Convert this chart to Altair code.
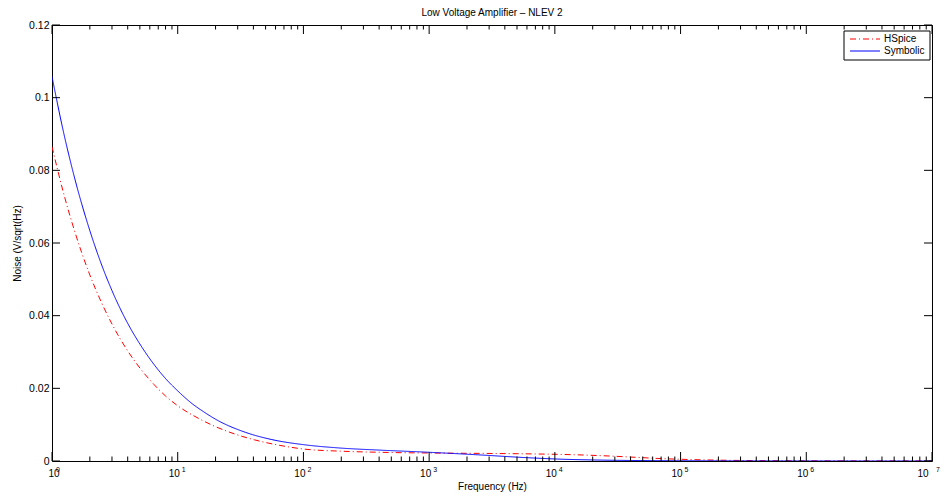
import altair as alt
import pandas as pd

# ---- data ----
hspice_f = [1, 1.25, 1.5, 2, 2.5, 3, 4, 5, 6.5, 8, 10, 14.7, 18.7, 27, 41, 65, 100, 200, 400,
            1000, 2450, 5000, 8300, 15000, 26000, 45000, 66000, 120000, 300000, 1e6, 1e7]
hspice_v = [0.0865, 0.0731, 0.0637, 0.0512, 0.0433, 0.0377, 0.0303, 0.0256, 0.0210, 0.0179, 0.0152,
            0.0117, 0.0099, 0.0077, 0.0058, 0.0043, 0.0033, 0.0027, 0.0024, 0.0022, 0.0021, 0.0020,
            0.0019, 0.0017, 0.0014, 0.0010, 0.0007, 0.0004, 0.00015, 0.00005, 0.00002]

symb_f = [1, 1.25, 1.5, 2, 2.5, 3, 4, 5, 6.5, 8, 10, 13, 16, 20, 34.5, 56, 100, 190, 400,
          1000, 2450, 6100, 11200, 19400, 50000, 1e5, 1e6, 1e7]
symb_v = [0.1058, 0.0897, 0.0784, 0.0634, 0.0537, 0.0469, 0.0379, 0.0322, 0.0265, 0.0227, 0.0193,
          0.0158, 0.0136, 0.0115, 0.0079, 0.0059, 0.0045, 0.0036, 0.0030, 0.0024, 0.0017, 0.0009,
          0.0005, 0.0003, 0.00012, 0.00006, 0.00001, 0.0]

series_names = ["HSpice", "Symbolic"]
series_colors = ["#ff0000", "#0000ff"]
series_dash = [[6, 3, 1, 3], [1, 0]]
title_text = "Low Voltage Amplifier \u2013 NLEV 2"
x_title = "Frequency (Hz)"
y_title = "Noise (V/sqrt(Hz)"

decades = [10 ** d for d in range(0, 8)]
decade_exp = ["0", "1", "2", "3", "4", "5", "6", "7"]
minor = [k * 10 ** d for d in range(0, 7) for k in range(2, 10)]
y_ticks = [0, 0.02, 0.04, 0.06, 0.08, 0.1, 0.12]

W, H = 880, 436
FONT = "Liberation Sans"

df = pd.concat([
    pd.DataFrame({"f": hspice_f, "v": hspice_v, "series": "HSpice"}),
    pd.DataFrame({"f": symb_f, "v": symb_v, "series": "Symbolic"}),
])

xscale = alt.Scale(type="log", domain=[1, 1e7], nice=False)
yscale = alt.Scale(domain=[0, 0.12], nice=False)

x_axis = alt.Axis(values=decades, title=x_title, labelExpr="'10'",
                  ticks=True, tickSize=0, domain=False, grid=False,
                  labelPadding=7, labelOffset=-4, labelFontSize=10, titlePadding=3)
y_axis = alt.Axis(values=y_ticks, title=y_title, format=".2~f",
                  ticks=True, tickSize=0, domain=False, grid=False,
                  labelPadding=3, labelFontSize=10.5, titlePadding=6)

color_scale = alt.Scale(domain=series_names, range=series_colors)
dash_scale = alt.Scale(domain=series_names, range=series_dash)

lines = alt.Chart(df).mark_line(strokeWidth=1, interpolate="monotone", clip=True).encode(
    x=alt.X("f:Q", scale=xscale, axis=x_axis),
    y=alt.Y("v:Q", scale=yscale, axis=y_axis),
    color=alt.Color("series:N", scale=color_scale, legend=None),
    strokeDash=alt.StrokeDash("series:N", scale=dash_scale, legend=None),
)

maj_df = pd.DataFrame({"f": decades, "e": decade_exp})
min_df = pd.DataFrame({"f": minor})
yt_df = pd.DataFrame({"v": y_ticks})

def xticks(data, y0, y1):
    return alt.Chart(data).mark_rule(color="black", strokeWidth=1).encode(
        x=alt.X("f:Q", scale=xscale, axis=x_axis), y=alt.value(y0), y2=alt.value(y1))

def yticks(x0, x1):
    return alt.Chart(yt_df).mark_rule(color="black", strokeWidth=1).encode(
        y=alt.Y("v:Q", scale=yscale, axis=y_axis), x=alt.value(x0), x2=alt.value(x1))

# exponents of the decade labels (10^n)
exps = alt.Chart(maj_df).mark_text(align="left", baseline="alphabetic", font=FONT,
                                   fontSize=7, dx=4, color="black").encode(
    x=alt.X("f:Q", scale=xscale, axis=x_axis), y=alt.value(H + 11), text="e:N")

# ---- hand-built legend box (MATLAB style) ----
leg_df = pd.DataFrame({"series": series_names})
LX0, LX1, LY0, LY1 = 792, 878, 6, 35
row_y = [14, 26]

leg_box = alt.Chart(leg_df.head(1)).mark_rect(fill="white", stroke="black", strokeWidth=1).encode(
    x=alt.value(LX0), x2=alt.value(LX1), y=alt.value(LY0), y2=alt.value(LY1))

leg_layers = [leg_box]
for i, name in enumerate(series_names):
    sub = leg_df[leg_df["series"] == name]
    leg_layers.append(alt.Chart(sub).mark_rule(strokeWidth=1, color=series_colors[i],
                                               strokeDash=series_dash[i]).encode(
        x=alt.value(LX0 + 6), x2=alt.value(LX0 + 36), y=alt.value(row_y[i])))
    leg_layers.append(alt.Chart(sub).mark_text(align="left", baseline="middle", font=FONT,
                                               fontSize=10, color="black").encode(
        x=alt.value(LX0 + 40), y=alt.value(row_y[i]), text="series:N"))

chart = alt.layer(
    lines,
    xticks(maj_df, H, H - 9), xticks(min_df, H, H - 4.5),
    xticks(maj_df, 0, 9), xticks(min_df, 0, 4.5),
    yticks(0, 8), yticks(W, W - 8),
    exps,
    *leg_layers,
).properties(
    width=W, height=H,
    title=alt.TitleParams(title_text, fontSize=10, fontWeight="normal", font=FONT,
                          offset=2, anchor="middle", frame="group", color="black"),
    autosize=alt.AutoSizeParams(type="none"),
    padding={"left": 44, "top": 17, "right": 8, "bottom": 33},
).configure_view(stroke="black", strokeWidth=1).configure_axis(
    labelFont=FONT, titleFont=FONT, titleFontSize=10,
    titleFontWeight="normal", labelColor="black", titleColor="black",
)

chart.save("out.html", embed_options={"renderer": "svg", "actions": False})
